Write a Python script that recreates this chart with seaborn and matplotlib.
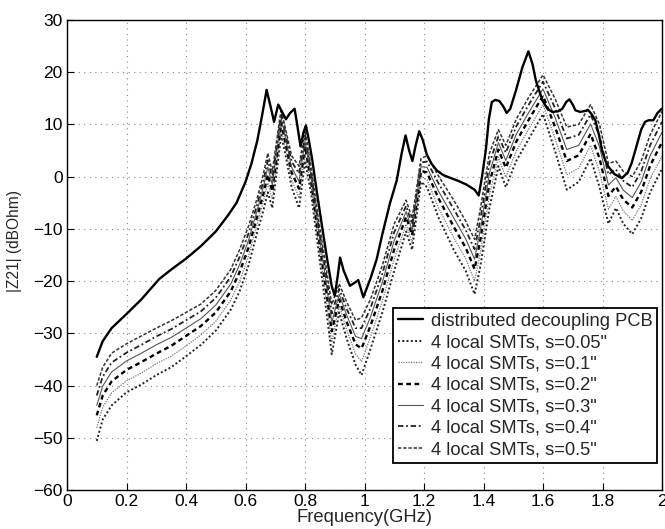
import matplotlib
matplotlib.use("Agg")
import matplotlib.pyplot as plt
import seaborn as sns
import pandas as pd

# ---------------- data ----------------
freq_pcb = [0.10, 0.12, 0.15, 0.20, 0.25, 0.31, 0.35, 0.40, 0.45, 0.50, 0.54, 0.57, 0.60, 0.62,
            0.64, 0.655, 0.671, 0.684, 0.696, 0.71, 0.722, 0.736, 0.75, 0.765, 0.775, 0.785,
            0.795, 0.803, 0.813, 0.825, 0.84, 0.86, 0.875, 0.89, 0.90, 0.91, 0.918, 0.93, 0.951,
            0.97, 0.979, 0.988, 0.996, 1.02, 1.041, 1.06, 1.086, 1.108, 1.125, 1.138, 1.15,
            1.161, 1.172, 1.184, 1.196, 1.209, 1.225, 1.243, 1.265, 1.287, 1.315, 1.342, 1.37,
            1.384, 1.395, 1.408, 1.418, 1.428, 1.44, 1.453, 1.466, 1.478, 1.49, 1.509, 1.531,
            1.551, 1.565, 1.576, 1.598, 1.615, 1.631, 1.65, 1.665, 1.678, 1.689, 1.70, 1.709,
            1.725, 1.743, 1.751, 1.763, 1.776, 1.788, 1.798, 1.81, 1.82, 1.84, 1.865, 1.885,
            1.898, 1.915, 1.93, 1.943, 1.955, 1.971, 1.985, 1.999]
z21_pcb = [-34.5, -31.5, -29.0, -26.3, -23.5, -19.6, -17.8, -15.7, -13.3, -10.5, -7.5, -5.0, -1.0, 2.5,
           7.0, 11.5, 16.6, 13.5, 10.5, 13.8, 12.5, 11.0, 12.2, 13.0, 9.5, 5.8,
           8.5, 9.8, 7.0, 3.0, -3.0, -10.5, -16.0, -21.0, -22.8, -19.0, -15.5, -18.0, -20.9,
           -20.2, -19.8, -21.5, -23.1, -19.5, -15.8, -11.0, -5.0, -0.8, 4.5, 7.9, 5.0,
           3.0, 6.0, 8.7, 7.0, 4.3, 2.5, 1.2, 0.3, -0.2, -0.8, -1.5, -2.5,
           -3.6, 0.0, 5.2, 11.0, 14.3, 14.7, 14.5, 13.5, 12.2, 13.0, 16.5, 21.0,
           24.0, 21.5, 18.4, 14.6, 13.0, 12.4, 12.5, 13.0, 14.3, 14.8, 13.8, 12.7,
           12.4, 12.6, 12.8, 12.0, 10.8, 8.0, 5.1, 3.0, 1.9, 0.5, -0.3, 0.8,
           2.6, 6.0, 9.0, 10.5, 10.8, 10.8, 12.2, 13.0]

freq_smt = [0.10, 0.12, 0.15, 0.20, 0.25, 0.30, 0.35, 0.40, 0.45, 0.50, 0.55, 0.58, 0.61, 0.64,
            0.66, 0.675, 0.69, 0.705, 0.72, 0.735, 0.755, 0.78, 0.80, 0.82, 0.845, 0.87, 0.89,
            0.915, 0.94, 0.97, 0.99, 1.02, 1.06, 1.10, 1.14, 1.16, 1.19, 1.21, 1.25, 1.30, 1.34,
            1.37, 1.39, 1.42, 1.45, 1.475, 1.51, 1.55, 1.60, 1.64, 1.68, 1.72, 1.76, 1.79, 1.82,
            1.845, 1.87, 1.90, 1.93, 1.96, 2.00]

z21_s005 = [-50.6, -46.5, -43.8, -41.3, -39.8, -38.0, -36.5, -34.4, -32.2, -29.5, -25.5, -22.0, -17.0, -10.5,
            -6.5, -3.0, -6.0, 1.0, 8.0, 4.0, -2.0, -6.0, 3.0, -3.0, -14.0, -25.0, -34.0,
            -26.0, -31.0, -36.0, -38.0, -33.0, -26.0, -18.0, -10.5, -14.0, -1.0, -2.0, -8.0, -14.0, -18.0,
            -22.5, -17.0, -6.0, 2.0, -2.0, 3.0, 7.0, 12.0, 5.0, -2.5, -1.0, 3.5, -2.0, -9.0,
            -6.0, -9.0, -11.0, -8.0, -3.0, 1.5]
z21_s01 = [-48.1, -44.1, -41.4, -39.1, -37.6, -35.8, -34.4, -32.4, -30.3, -27.7, -23.7, -20.1, -15.2, -8.9,
           -4.8, -1.2, -4.3, 2.4, 9.2, 5.2, -0.6, -4.1, 4.4, -1.8, -12.6, -23.1, -31.7,
           -24.7, -29.3, -34.0, -35.4, -30.7, -23.8, -15.8, -9.1, -12.6, 0.1, -0.6, -6.1, -11.7, -15.7,
           -20.0, -14.4, -3.5, 3.7, -0.1, 4.9, 8.9, 13.8, 7.4, 0.4, 1.6, 6.0, 0.9, -6.2,
           -3.8, -6.6, -8.4, -5.4, -0.4, 3.9]
z21_s02 = [-45.7, -41.9, -39.2, -37.0, -35.5, -33.9, -32.4, -30.5, -28.6, -26.0, -22.0, -18.3, -13.6, -7.5,
           -3.3, 0.4, -2.8, 3.8, 10.3, 6.3, 0.8, -2.3, 5.8, -0.7, -11.2, -21.3, -29.6,
           -23.5, -27.8, -32.1, -32.9, -28.6, -21.9, -13.9, -7.7, -11.2, 1.1, 0.8, -4.3, -9.6, -13.6,
           -17.7, -11.9, -1.2, 5.2, 1.7, 6.7, 10.7, 15.5, 9.6, 3.0, 4.1, 8.2, 3.5, -3.7,
           -1.9, -4.4, -5.9, -2.9, 2.1, 6.6]
z21_s03 = [-43.8, -40.1, -37.4, -35.3, -33.8, -32.2, -30.8, -29.0, -27.2, -24.6, -20.6, -16.9, -12.2, -6.3,
           -2.0, 1.8, -1.5, 4.8, 11.2, 7.2, 1.8, -0.9, 6.8, 0.2, -10.2, -19.9, -27.9,
           -22.5, -26.5, -30.6, -31.0, -26.9, -20.2, -12.2, -6.7, -10.2, 1.9, 1.8, -2.9, -7.9, -11.9,
           -15.8, -10.0, 0.7, 6.5, 3.1, 8.1, 12.1, 16.8, 11.4, 5.2, 6.0, 10.1, 5.7, -1.6,
           -0.2, -2.6, -4.0, -1.0, 4.0, 8.5]
z21_s04 = [-41.9, -38.3, -35.6, -33.7, -32.2, -30.6, -29.2, -27.5, -25.8, -23.2, -19.2, -15.4, -10.9, -5.2,
           -0.8, 3.1, -0.3, 5.9, 12.1, 8.1, 2.9, 0.6, 7.9, 1.1, -9.1, -18.4, -26.2,
           -21.5, -25.3, -29.0, -29.0, -25.2, -18.6, -10.6, -5.6, -9.1, 2.7, 2.9, -1.4, -6.2, -10.2,
           -13.9, -8.0, 2.6, 7.7, 4.6, 9.6, 13.6, 18.2, 13.2, 7.3, 8.0, 11.9, 7.8, 0.4,
           1.4, -0.8, -2.0, 1.0, 6.0, 10.5]
z21_s05 = [-40.0, -36.5, -33.8, -32.0, -30.5, -29.0, -27.6, -26.0, -24.4, -21.8, -17.8, -14.0, -9.5, -4.0,
           0.5, 4.5, 1.0, 7.0, 13.0, 9.0, 4.0, 2.0, 9.0, 2.0, -8.0, -17.0, -24.5,
           -20.5, -24.0, -27.5, -27.0, -23.5, -17.0, -9.0, -4.5, -8.0, 3.5, 4.0, 0.0, -4.5, -8.5,
           -12.0, -6.0, 4.5, 9.0, 6.0, 11.0, 15.0, 19.5, 15.0, 9.5, 10.0, 13.8, 10.0, 2.5,
           3.0, 1.0, 0.0, 3.0, 8.0, 12.5]

labels = ['distributed decoupling PCB',
          '4 local SMTs, s=0.05"', '4 local SMTs, s=0.1"', '4 local SMTs, s=0.2"',
          '4 local SMTs, s=0.3"', '4 local SMTs, s=0.4"', '4 local SMTs, s=0.5"']

x_ticks = [0, 0.2, 0.4, 0.6, 0.8, 1.0, 1.2, 1.4, 1.6, 1.8, 2.0]
x_tick_labels = ['0', '0.2', '0.4', '0.6', '0.8', '1', '1.2', '1.4', '1.6', '1.8', '2']
y_ticks = [-60, -50, -40, -30, -20, -10, 0, 10, 20, 30]

# ---------------- style ----------------
sns.set_theme(style="ticks")
plt.rcParams['font.family'] = ['Liberation Sans', 'DejaVu Sans']

fig = plt.figure(figsize=(6.65, 5.29), dpi=100)
ax = fig.add_axes([67 / 665, 39 / 529, 595 / 665, 470 / 529])

styles = [
    dict(color='black', lw=1.7, linestyle='-'),
    dict(color='#222222', lw=1.4, linestyle=(0, (1, 1.2))),
    dict(color='#777777', lw=0.9, linestyle=(0, (1, 1))),
    dict(color='black', lw=1.7, linestyle=(0, (2, 1.5))),
    dict(color='#555555', lw=0.8, linestyle='-'),
    dict(color='#222222', lw=1.3, linestyle=(0, (3, 1.5, 1, 1.5))),
    dict(color='#333333', lw=1.1, linestyle=(0, (2.2, 1.2))),
]

series = [(freq_pcb, z21_pcb), (freq_smt, z21_s005), (freq_smt, z21_s01), (freq_smt, z21_s02),
          (freq_smt, z21_s03), (freq_smt, z21_s04), (freq_smt, z21_s05)]

# draw SMT curves first, PCB on top
order = [1, 2, 3, 4, 5, 6, 0]
for i in order:
    fx, fy = series[i]
    df = pd.DataFrame({'f': fx, 'z': fy})
    sns.lineplot(data=df, x='f', y='z', ax=ax, sort=False, label=labels[i], **styles[i])

ax.set_xlim(0, 2)
ax.set_ylim(-60, 30)
ax.set_xticks(x_ticks)
ax.set_xticklabels(x_tick_labels)
ax.set_yticks(y_ticks)
ax.grid(True, color='#888888', linestyle=(0, (1, 4)), linewidth=0.8)
ax.tick_params(direction='in', length=5, width=0.8, labelsize=12.5, colors='black', pad=3)
for sp in ax.spines.values():
    sp.set_visible(True)
    sp.set_color('black')
    sp.set_linewidth(1.0)

ax.set_xlabel('Frequency(GHz)', fontsize=13.2, labelpad=0)
ax.set_ylabel('|Z21| (dBOhm)', fontsize=11.2)
ax.yaxis.set_label_coords(-0.075, 0.53)

h, l = ax.get_legend_handles_labels()
lab_to_h = dict(zip(l, h))
leg = ax.legend([lab_to_h[t] for t in labels], labels, loc='lower right',
                bbox_to_anchor=(0.9915, 0.058), fontsize=13.2, frameon=True, fancybox=False,
                framealpha=1, edgecolor='black', handlelength=1.4, handletextpad=0.4,
                labelspacing=0.24, borderpad=0.25, borderaxespad=0)
leg.get_frame().set_linewidth(1.3)

fig.savefig('out.png', dpi=100)
